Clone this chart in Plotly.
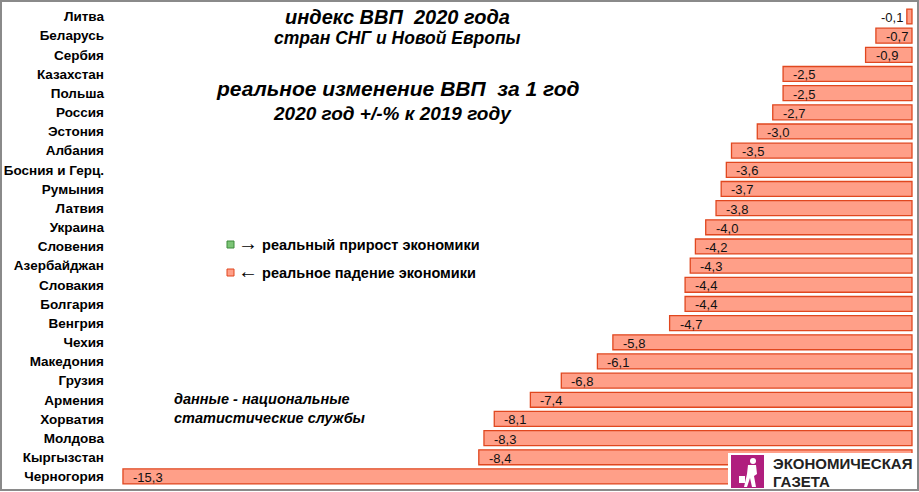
import plotly.graph_objects as go

countries = ["Литва", "Беларусь", "Сербия", "Казахстан", "Польша", "Россия", "Эстония",
             "Албания", "Босния и Герц.", "Румыния", "Латвия", "Украина", "Словения",
             "Азербайджан", "Словакия", "Болгария", "Венгрия", "Чехия", "Македония",
             "Грузия", "Армения", "Хорватия", "Молдова", "Кыргызстан", "Черногория"]
gdp_change = [-0.1, -0.7, -0.9, -2.5, -2.5, -2.7, -3.0, -3.5, -3.6, -3.7, -3.8, -4.0, -4.2,
              -4.3, -4.4, -4.4, -4.7, -5.8, -6.1, -6.8, -7.4, -8.1, -8.3, -8.4, -15.3]
labels = [f"{v:.1f}".replace(".", ",") for v in gdp_change]

WIDTH, HEIGHT = 919, 492
L, R, T, B = 108, 2, 6, 6
PW, PH = WIDTH - L - R, HEIGHT - T - B


def px(x):
    return (x - L) / PW


def py(y):
    return 1 - (y - T) / PH


FONT = "Liberation Sans, Arial, sans-serif"
BAR_FILL = "#FF9F88"
BAR_LINE = "#E0471F"

fig = go.Figure()
fig.add_trace(go.Bar(
    y=countries, x=gdp_change, orientation="h",
    marker=dict(color=BAR_FILL, line=dict(color=BAR_LINE, width=1.3)),
    hoverinfo="x+y", showlegend=False,
))

annotations = []
for c, v, t in zip(countries, gdp_change, labels):
    small = v > -0.5
    annotations.append(dict(
        x=v, y=c, xref="x", yref="y", text=t, showarrow=False,
        xanchor="right" if small else "left", xshift=-2 if small else 8, yshift=-1,
        font=dict(family=FONT, size=13, color="#111"),
    ))

title_lines = [
    ("индекс ВВП  2020 года", 397, 17, 20),
    ("стран СНГ и Новой Европы", 397, 38, 17.5),
    ("реальное изменение ВВП  за 1 год", 397, 88, 21),
    ("2020 год +/-% к 2019 году", 392, 113, 19),
]
for t, x, y, s in title_lines:
    annotations.append(dict(
        x=px(x), y=py(y), xref="paper", yref="paper", text=f"<b><i>{t}</i></b>",
        showarrow=False, xanchor="center", yanchor="middle",
        font=dict(family=FONT, size=s, color="#000"),
    ))

legend_items = [("→", "реальный прирост экономики", 243), ("←", "реальное падение экономики", 271)]
for a, t, y in legend_items:
    annotations.append(dict(
        x=px(236), y=py(y), xref="paper", yref="paper",
        text=f"<span style='font-size:20px'>{a}</span><b> {t}</b>",
        showarrow=False, xanchor="left", yanchor="middle",
        font=dict(family=FONT, size=14.5, color="#000"),
    ))

annotations.append(dict(
    x=px(172), y=py(408), xref="paper", yref="paper",
    text="<b><i>данные - национальные<br>статистические службы</i></b>",
    showarrow=False, xanchor="left", yanchor="middle", align="left",
    font=dict(family=FONT, size=14.5, color="#000"),
))

for t, y in [("ЭКОНОМИЧЕСКАЯ", 463), ("ГАЗЕТА", 481)]:
    annotations.append(dict(
        x=px(771), y=py(y), xref="paper", yref="paper", text=f"<b>{t}</b>",
        showarrow=False, xanchor="left", yanchor="middle",
        font=dict(family=FONT, size=15, color="#222"),
    ))

shapes = []
# legend squares
shapes.append(dict(type="rect", xref="paper", yref="paper", x0=px(227), x1=px(234), y0=py(241), y1=py(248),
                   fillcolor="#7CC576", line=dict(color="#3C8A3A", width=1)))
shapes.append(dict(type="rect", xref="paper", yref="paper", x0=px(227), x1=px(234), y0=py(269), y1=py(276),
                   fillcolor=BAR_FILL, line=dict(color=BAR_LINE, width=1)))
# logo
shapes.append(dict(type="rect", xref="paper", yref="paper", x0=px(728), x1=px(917), y0=py(453), y1=py(489),
                   fillcolor="white", line=dict(width=0), layer="above"))
shapes.append(dict(type="rect", xref="paper", yref="paper", x0=px(731), x1=px(764), y0=py(455), y1=py(488),
                   fillcolor="#B01E7E", line=dict(width=0), layer="above"))
shapes.append(dict(type="circle", xref="paper", yref="paper", x0=px(750), x1=px(756), y0=py(458), y1=py(464),
                   fillcolor="white", line=dict(width=0), layer="above"))
fig_path_pts = [(748, 465), (756, 465), (757, 474), (754, 476), (756, 487), (752, 487),
                (750, 478), (747, 487), (744, 487), (747, 474)]
path = "M " + " L ".join(f"{px(x)},{py(y)}" for x, y in fig_path_pts) + " Z"
shapes.append(dict(type="path", xref="paper", yref="paper", path=path,
                   fillcolor="white", line=dict(width=0), layer="above"))
shapes.append(dict(type="rect", xref="paper", yref="paper", x0=px(739), x1=px(745), y0=py(476), y1=py(483),
                   fillcolor="white", line=dict(width=0), layer="above"))
# outer border
shapes.append(dict(type="rect", xref="paper", yref="paper", x0=px(1), x1=px(918), y0=py(1), y1=py(490),
                   fillcolor="rgba(0,0,0,0)", line=dict(color="#8A8A8A", width=2), layer="above"))

fig.update_layout(
    width=WIDTH, height=HEIGHT,
    margin=dict(l=L, r=R, t=T, b=B, autoexpand=False),
    paper_bgcolor="white", plot_bgcolor="white",
    bargap=0.22,
    font=dict(family=FONT, color="#000"),
    xaxis=dict(range=[-15.59, 0.097], visible=False, fixedrange=True, automargin=False),
    yaxis=dict(autorange="reversed", showgrid=False, zeroline=False, showline=False,
               ticks="", ticklabelstandoff=3, automargin=False,
               tickfont=dict(family=FONT, size=13.5, color="#000", weight="bold")),
    annotations=annotations,
    shapes=shapes,
)

fig.write_html("out.html")
